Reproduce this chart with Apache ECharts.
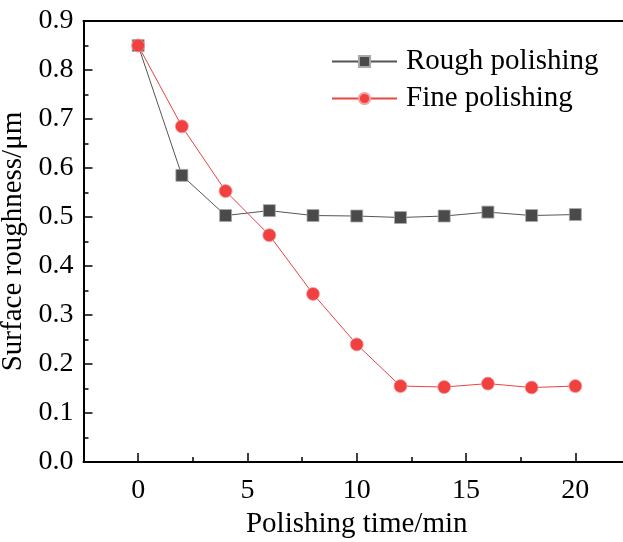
<!DOCTYPE html>
<html><head><meta charset="utf-8">
<script src="https://cdn.jsdelivr.net/npm/echarts@6/dist/echarts.min.js"></script>
<style>html,body{margin:0;padding:0;background:#fff}#c{width:623px;height:542px}</style>
</head><body><div id="c"></div>
<script>
var times = [0, 2, 4, 6, 8, 10, 12, 14, 16, 18, 20];
var rough = [0.85, 0.585, 0.503, 0.513, 0.503, 0.502, 0.499, 0.502, 0.510, 0.503, 0.505];
var fine = [0.85, 0.685, 0.553, 0.463, 0.343, 0.240, 0.155, 0.153, 0.160, 0.152, 0.155];
var xMajorTicks = [0, 5, 10, 15, 20];
var xMinorTicks = [-2.5, 2.5, 7.5, 12.5, 17.5, 22.5];
var seriesNames = ['Rough polishing', 'Fine polishing'];
var xTitle = 'Polishing time/min';
var yTitle = 'Surface roughness/\u03bcm';

function pairs(xs, ys) { return xs.map(function (x, i) { return [x, ys[i]]; }); }
var FONT = '"Liberation Serif", "Times New Roman", serif';
var XMIN = -2.5, XMAX = 22.5;
var chart = echarts.init(document.getElementById('c'));
chart.setOption({
  animation: false,
  backgroundColor: '#fff',
  grid: { left: 83.5, top: 21, bottom: 80, right: -7, containLabel: false, outerBoundsMode: 'none' },
  legend: {
    orient: 'vertical', left: 326, top: 42, itemWidth: 65, itemHeight: 14, itemGap: 8,
    textStyle: { fontFamily: FONT, fontSize: 29, color: '#000', padding: [0, 0, 0, 4] },
    data: seriesNames
  },
  xAxis: [{
    type: 'value', min: XMIN, max: XMAX,
    name: xTitle, nameLocation: 'middle', nameGap: 48,
    nameTextStyle: { fontFamily: FONT, fontSize: 29, color: '#000' },
    axisLine: { onZero: false, lineStyle: { color: '#000', width: 2 } },
    axisTick: { inside: true, length: 9, customValues: xMajorTicks, lineStyle: { color: '#000', width: 1.5 } },
    axisLabel: { fontFamily: FONT, fontSize: 28, color: '#000', margin: 15, customValues: xMajorTicks },
    splitLine: { show: false }
  }, {
    type: 'value', position: 'top', min: XMIN, max: XMAX,
    axisLine: { show: true, onZero: false, lineStyle: { color: '#000', width: 2 } },
    axisTick: { show: false }, axisLabel: { show: false }, splitLine: { show: false }
  }, {
    type: 'value', position: 'bottom', offset: 0, min: XMIN, max: XMAX,
    axisLine: { show: false, onZero: false },
    axisTick: { inside: true, length: 5, customValues: xMinorTicks, lineStyle: { color: '#000', width: 1.5 } },
    axisLabel: { show: false }, splitLine: { show: false }
  }],
  yAxis: {
    type: 'value', min: 0, max: 0.9, interval: 0.1,
    name: yTitle, nameLocation: 'middle', nameGap: 45,
    nameTextStyle: { fontFamily: FONT, fontSize: 29, color: '#000' },
    axisLine: { show: true, onZero: false, lineStyle: { color: '#000', width: 2 } },
    axisTick: { inside: true, length: 9, lineStyle: { color: '#000', width: 1.5 } },
    minorTick: { show: true, splitNumber: 2, length: 5, lineStyle: { color: '#000', width: 1.5 } },
    axisLabel: { fontFamily: FONT, fontSize: 28, color: '#000', margin: 10,
      formatter: function (v) { return v.toFixed(1); } },
    splitLine: { show: false }
  },
  series: [{
    name: seriesNames[0], type: 'line', data: pairs(times, rough),
    symbol: 'rect', symbolSize: 12,
    lineStyle: { color: '#555', width: 1 },
    itemStyle: { color: '#4a4a4a', borderColor: '#aaa', borderWidth: 0.8 },
    z: 2
  }, {
    name: seriesNames[1], type: 'line', data: pairs(times, fine),
    symbol: 'circle', symbolSize: 13,
    lineStyle: { color: '#e84545', width: 1 },
    itemStyle: { color: '#f04040', borderColor: '#f6a0a0', borderWidth: 0.8 },
    z: 3
  }]
});
</script></body></html>
